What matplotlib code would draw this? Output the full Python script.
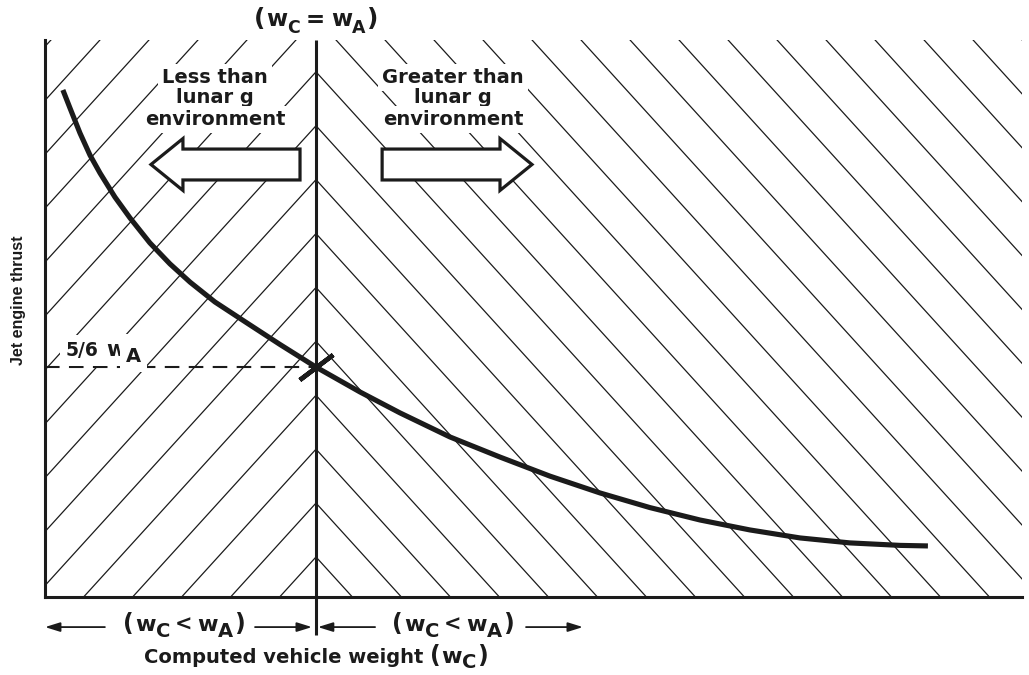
import matplotlib
matplotlib.use("Agg")
import matplotlib.pyplot as plt
from matplotlib import font_manager
from matplotlib.patches import FancyArrow

# ---------------- data ----------------
# computed vehicle weight in units of W_A, jet engine thrust in units of W_A
weight = [0.066, 0.092, 0.129, 0.166, 0.203, 0.258, 0.314, 0.387, 0.461,
          0.535, 0.627, 0.745, 0.867, 1.000, 1.162, 1.310, 1.494, 1.679,
          1.863, 2.048, 2.232, 2.417, 2.601, 2.786, 2.970, 3.155, 3.258]
thrust = [1.837, 1.772, 1.681, 1.601, 1.536, 1.449, 1.373, 1.283, 1.207,
          1.141, 1.069, 0.993, 0.915, 0.833, 0.743, 0.667, 0.580, 0.507,
          0.438, 0.377, 0.324, 0.279, 0.243, 0.214, 0.196, 0.187, 0.185]
wa_weight = 1.0          # W_C = W_A
wa_thrust = 5.0 / 6.0    # 5/6 W_A

XMAX = 977 / 271
YMAX = 557 / 276

FONT = "DejaVu Sans"
INK = "#1b1b1b"

names = {f.name for f in font_manager.fontManager.ttflist}
if "Liberation Sans Narrow" in names:
    YFONT, YSIZE = "Liberation Sans Narrow", 13.5
else:
    YFONT, YSIZE = "Liberation Sans", 11.5

fig = plt.figure(figsize=(10.29, 6.75), dpi=100)
ax = fig.add_axes([45 / 1029, 78 / 675, 977 / 1029, 557 / 675])
ax.set_xlim(0, XMAX)
ax.set_ylim(0, YMAX)
ax.set_xticks([])
ax.set_yticks([])
for side in ("top", "right"):
    ax.spines[side].set_visible(False)
for side in ("left", "bottom"):
    ax.spines[side].set_linewidth(2.2)
    ax.spines[side].set_color(INK)
    ax.spines[side].set_zorder(6)

# ---------------- hatching ----------------
slope = 1.08
y0, step = 0.145, 0.1953
for k in range(-40, 45):
    yj = y0 + step * k
    ax.plot([-0.2, wa_weight], [yj - slope * (wa_weight + 0.2), yj],
            color=INK, lw=0.9, solid_capstyle="butt", zorder=1)
    ax.plot([wa_weight, XMAX + 0.2], [yj, yj - slope * (XMAX + 0.2 - wa_weight)],
            color=INK, lw=0.9, solid_capstyle="butt", zorder=1)

# centre line W_C = W_A
ax.plot([wa_weight, wa_weight], [-0.138, YMAX], color=INK, lw=2.2,
        clip_on=False, zorder=6, solid_capstyle="butt")

# dashed 5/6 W_A line
ax.plot([0, wa_weight], [wa_thrust, wa_thrust], color=INK, lw=1.5,
        ls=(0, (7, 4.5)), zorder=4)

# curve
ax.plot(weight, thrust, color=INK, lw=3.7, solid_capstyle="butt",
        solid_joinstyle="round", zorder=7)
# cross mark
ax.plot([wa_weight], [wa_thrust], marker=(2, 2, -53), ms=30, mew=3.3,
        color=INK, zorder=8)

# ---------------- block arrows ----------------
for x_start, x_tip in [(0.941, 0.391), (1.244, 1.797)]:
    arr = FancyArrow(x_start, 1.567, x_tip - x_start, 0, width=0.112,
                     head_width=0.188, head_length=0.118,
                     length_includes_head=True, facecolor="white",
                     edgecolor=INK, lw=2.3, joinstyle="miter", zorder=5)
    ax.add_patch(arr)

# ---------------- text helpers ----------------
renderer = fig.canvas.get_renderer()


def rich(x, y, pieces, family=FONT, ha="center", box=False):
    widths = []
    for s, size, dy, gap in pieces:
        t = fig.text(0, 0, s, fontsize=size, fontweight="bold", family=family)
        widths.append(t.get_window_extent(renderer).width)
        t.remove()
    total = sum(widths) + sum(p[3] for p in pieces)
    cur = -total / 2 if ha == "center" else 0.0
    for (s, size, dy, gap), w in zip(pieces, widths):
        cur += gap
        kw = {}
        if box:
            kw["bbox"] = dict(facecolor="white", edgecolor="none", pad=4)
        ax.annotate(s, xy=(x, y), xycoords="data",
                    xytext=(cur * 0.72, -dy * 0.72), textcoords="offset points",
                    ha="left", va="baseline", fontsize=size, fontweight="bold",
                    family=family, color=INK, annotation_clip=False,
                    zorder=9, **kw)
        cur += w


# title (W_C = W_A)
rich(wa_weight, 2.069, [("(", 18, 0, 0), ("w", 16.5, 0, 1), ("C", 12.5, 7, 0),
                        ("=", 16.5, 0, 6), ("w", 16.5, 0, 6), ("A", 12.5, 7, 0),
                        (")", 18, 0, 1)])

# region labels
left_lines = ["Less than", "lunar g", "environment"]
right_lines = ["Greater than", "lunar g", "environment"]
line_y = [1.863, 1.790, 1.710]
for s, yy in zip(left_lines, line_y):
    ax.text(0.627, yy, s, ha="center", va="baseline", fontsize=14,
            fontweight="bold", family=FONT, color=INK, zorder=9,
            bbox=dict(facecolor="white", edgecolor="none", pad=3))
for s, yy in zip(right_lines, line_y):
    ax.text(1.506, yy, s, ha="center", va="baseline", fontsize=14,
            fontweight="bold", family=FONT, color=INK, zorder=9,
            bbox=dict(facecolor="white", edgecolor="none", pad=3))

# 5/6 W_A
rich(0.077, 0.873, [("5/6", 13.5, 0, 0), ("w", 15, 0, 8), ("A", 14, 6, 0)],
     ha="left", box=True)

# bottom range labels
for xc in (0.513, 1.506):
    rich(xc, -0.123, [("(", 17, 0, 0), ("w", 16, 0, 1), ("C", 14, 6, 0),
                      ("<", 15, 0, 5), ("w", 16, 0, 5), ("A", 14, 6, 0),
                      (")", 17, 0, 1)])

arrow_style = dict(arrowstyle="-|>,head_length=0.9,head_width=0.28",
                   lw=1.3, color=INK, shrinkA=0, shrinkB=0)
for tail, tip in [(0.221, 0.0), (0.775, 0.985), (1.218, 1.007), (1.775, 1.985)]:
    ax.annotate("", xy=(tip, -0.109), xytext=(tail, -0.109),
                arrowprops=arrow_style, annotation_clip=False)

# x label
rich(wa_weight, -0.240, [("Computed vehicle weight ", 14, 0, 0), ("(", 17, 0, 0),
                         ("w", 16, 0, 1), ("C", 14, 5, 0), (")", 17, 0, 1)])

# y label
fig.text(19 / 1029, 1 - 300 / 675, "Jet engine thrust", rotation=90,
         ha="center", va="center", fontsize=YSIZE, fontweight="bold",
         family=YFONT, color=INK)

fig.savefig("out.png", dpi=100, facecolor="white")
